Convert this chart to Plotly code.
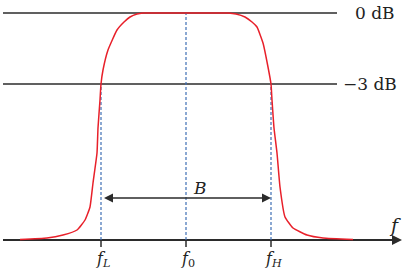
import plotly.graph_objects as go

# Band-pass response (frequency in arbitrary units, level in arbitrary units: 0 = baseline)
freq = [20, 47, 63, 77, 85, 90, 93, 97, 98, 100, 101, 103, 108, 117, 124, 130, 137, 143,
        186, 228, 236, 245, 252, 257, 263, 268, 271, 272, 274, 277, 280, 285, 293, 307, 323, 353]
level = [0.5, 2, 5, 10, 20, 33, 57, 87, 112, 140, 156, 170, 190, 210, 218, 223, 226, 227,
         227, 227, 226, 223, 218, 213, 197, 173, 156, 140, 112, 87, 53, 23, 12, 5, 2, 0.5]

f_L, f_0, f_H = 101, 186, 271
lvl_0dB, lvl_3dB = 227, 156
ref_labels = ["0 dB", "\u22123 dB"]
freq_labels = ["<i>f</i><sub><i>L</i></sub>", "<i>f</i><sub>0</sub>", "<i>f</i><sub><i>H</i></sub>"]
x_min, x_line_end, x_axis_end = 3, 337, 402

FONT = "'DejaVu Serif', serif"
BLUE = "#3f6fb5"
DARK = "#2b2b2b"

fig = go.Figure()

# reference lines
for lv in (lvl_0dB, lvl_3dB):
    fig.add_trace(go.Scatter(x=[x_min, x_line_end], y=[lv, lv], mode="lines",
                             line=dict(color=DARK, width=1.5), hoverinfo="skip"))
# baseline
fig.add_trace(go.Scatter(x=[x_min, x_axis_end - 8], y=[0, 0], mode="lines",
                         line=dict(color=DARK, width=2), hoverinfo="skip"))
# dashed verticals
for xv, top in ((f_L, lvl_3dB), (f_0, lvl_0dB), (f_H, lvl_3dB)):
    fig.add_trace(go.Scatter(x=[xv, xv], y=[0, top], mode="lines",
                             line=dict(color=BLUE, width=1.2, dash="3px,2px"), hoverinfo="skip"))
    fig.add_trace(go.Scatter(x=[xv, xv], y=[0, -7], mode="lines",
                             line=dict(color=DARK, width=1.5), hoverinfo="skip"))

# response curve
fig.add_trace(go.Scatter(x=freq, y=level, mode="lines",
                         line=dict(color="#e8202a", width=1.5, shape="spline", smoothing=0.4),
                         hoverinfo="skip"))

# axis arrow head
fig.add_annotation(x=x_axis_end, y=0, ax=x_axis_end - 14, ay=0, xref="x", yref="y",
                   axref="x", ayref="y", showarrow=True, arrowhead=2, arrowsize=1,
                   arrowwidth=2, arrowcolor=DARK, text=" ")
# bandwidth arrow
fig.add_annotation(x=f_H, y=42, ax=f_L, ay=42, xref="x", yref="y", axref="x", ayref="y",
                   showarrow=True, arrowhead=2, startarrowhead=2, arrowside="end+start",
                   arrowsize=1.2, startarrowsize=1.2, arrowwidth=1.5, arrowcolor=DARK, text=" ")

texts = [
    (ref_labels[0], 375, lvl_0dB, 17),
    (ref_labels[1], 370, lvl_3dB, 17),
    ("<i>B</i>", 200, 52, 17),
    ("<i>f</i>", 395, 15, 19),
]
for t, xx, yy, sz in texts:
    fig.add_annotation(x=xx, y=yy, text=t, showarrow=False, xref="x", yref="y",
                       font=dict(family=FONT, size=sz, color="#222"))
for t, xx in zip(freq_labels, (f_L, f_0, f_H)):
    fig.add_annotation(x=xx + 2, y=-19, text=t, showarrow=False, xref="x", yref="y",
                       font=dict(family=FONT, size=16, color="#222"))

fig.update_layout(
    width=404, height=274, margin=dict(l=0, r=0, t=0, b=0),
    paper_bgcolor="white", plot_bgcolor="white", showlegend=False,
    xaxis=dict(range=[0, 404], visible=False, fixedrange=True),
    yaxis=dict(range=[-34, 240], visible=False, fixedrange=True),
)

fig.write_html("out.html")
